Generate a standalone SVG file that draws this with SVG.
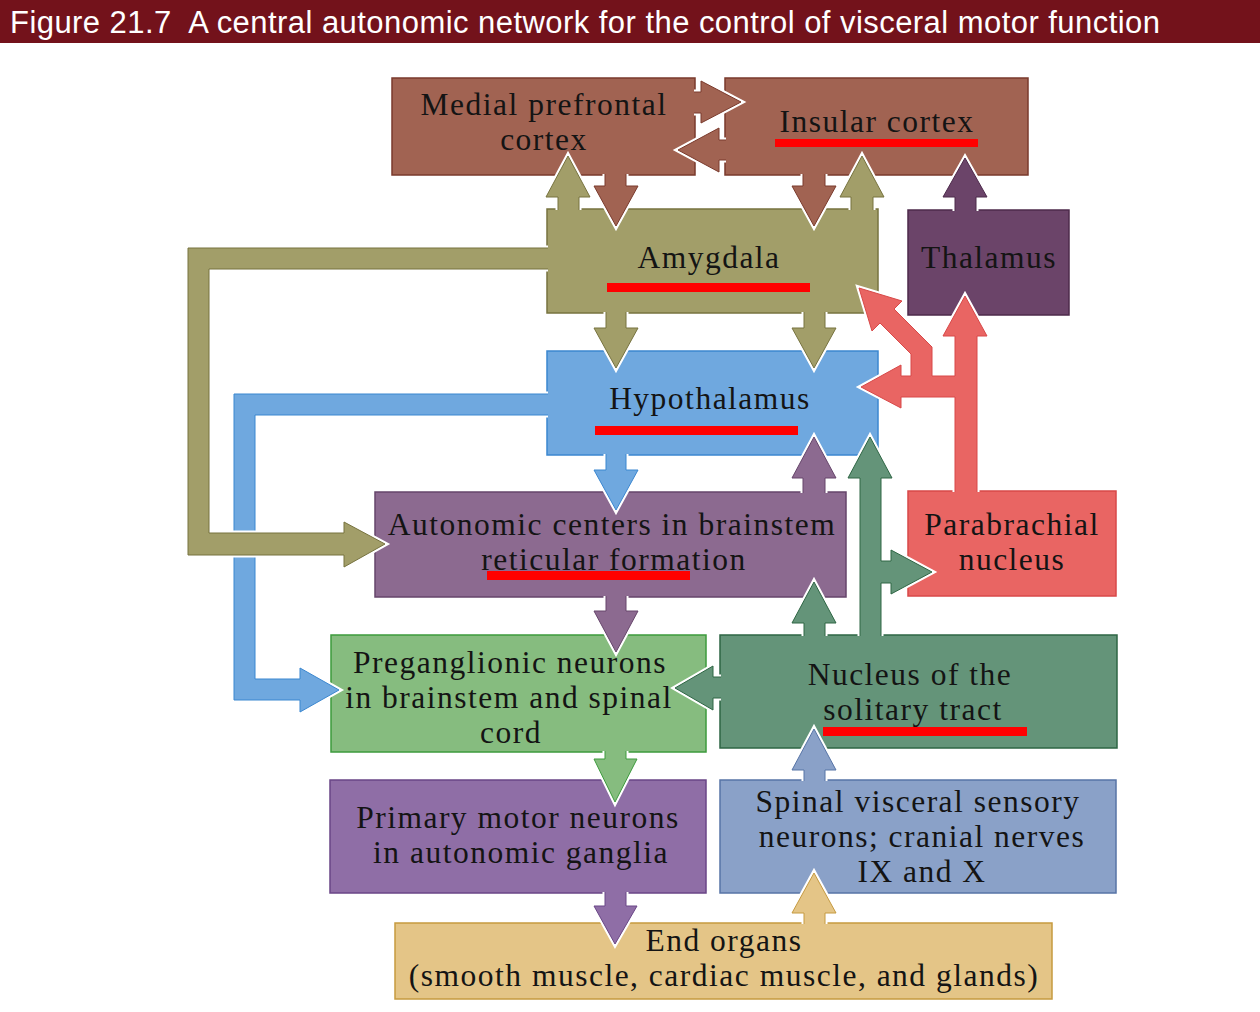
<svg xmlns="http://www.w3.org/2000/svg" xmlns:xlink="http://www.w3.org/1999/xlink" width="1260" height="1012" viewBox="0 0 1260 1012">
<style>
.t{font-family:"Liberation Serif","Times New Roman",serif;font-size:31.5px;letter-spacing:1.5px;fill:#141414;text-anchor:middle}
.title{font-family:"Liberation Sans",Arial,sans-serif;font-size:31px;fill:#ffffff}
.box{stroke-width:1.5}
.h{fill:none;stroke:#ffffff;stroke-width:5;stroke-linejoin:miter}
.a{stroke-width:1}
.ul{fill:#ff0000}
.brown{fill:#a16352;stroke:#7a3a2c}
.olive{fill:#a29e69;stroke:#77733f}
.thal{fill:#6b4469;stroke:#4d2a4b}
.blue{fill:#6fa8df;stroke:#3b87d0}
.auto{fill:#8c6a90;stroke:#66456b}
.para{fill:#e96563;stroke:#d84848}
.pre{fill:#86bc7f;stroke:#3d9b3d}
.nts{fill:#649479;stroke:#2e6644}
.prim{fill:#8f6ea6;stroke:#6a4687}
.spin{fill:#8aa1c8;stroke:#5774a6}
.end{fill:#e4c587;stroke:#c69a3f}
</style>
<defs>
<path id="pBlueL" d="M548,394 L234,394 L234,700 L300,700 L300,712 L339,690 L300,668 L300,679 L255,679 L255,415 L548,415"/>
<path id="pOliveL" d="M548,248 L188,248 L188,555 L344,555 L344,567 L385,544 L344,522 L344,533 L209,533 L209,269 L548,269"/>
<path id="p1" d="M694,92 L701,92 L701,81 L741,102 L701,123 L701,113 L694,113"/>
<path id="p2" d="M726,140 L719,140 L719,128 L678,150 L719,172 L719,160 L726,160"/>
<path id="p3" d="M605,174 L605,186 L594,186 L616,226 L638,186 L626,186 L626,174"/>
<path id="p4" d="M558,210 L558,197 L546,197 L568,156 L590,197 L579,197 L579,210"/>
<path id="p5" d="M803,174 L803,186 L792,186 L814,226 L836,186 L825,186 L825,174"/>
<path id="p6" d="M851,210 L851,197 L840,197 L862,156 L884,197 L873,197 L873,210"/>
<path id="p7" d="M955,211 L955,197 L943,197 L965,158 L987,197 L976,197 L976,211"/>
<path id="p8" d="M606,312 L606,328 L594,328 L616,368 L638,328 L626,328 L626,312"/>
<path id="p9" d="M804,312 L804,328 L792,328 L814,368 L836,328 L825,328 L825,312"/>
<path id="p10" d="M606,454 L606,470 L594,470 L616,510 L638,470 L626,470 L626,454"/>
<path id="p11" d="M803,493 L803,478 L792,478 L814,437 L836,478 L825,478 L825,493"/>
<path id="p12" d="M860,636 L860,478 L848,478 L870,437 L892,478 L881,478 L881,561 L891,561 L891,550 L932,572 L891,594 L891,583 L881,583 L881,636"/>
<path id="p13" d="M955,492 L955,397 L901,397 L901,408 L861,387 L901,365 L901,376 L911,376 L911,354 L880,323 L872,331 L859,288 L902,301 L894,309 L932,347 L932,376 L955,376 L955,336 L943,336 L965,296 L987,336 L977,336 L977,492"/>
<path id="p14" d="M606,596 L606,611 L594,611 L616,652 L638,611 L626,611 L626,596"/>
<path id="p15" d="M804,636 L804,623 L792,623 L814,582 L836,623 L825,623 L825,636"/>
<path id="p16" d="M721,677 L713,677 L713,666 L675,688 L713,710 L713,698 L721,698"/>
<path id="p17" d="M605,751 L605,759 L594,759 L615,802 L637,759 L626,759 L626,751"/>
<path id="p18" d="M605,892 L605,906 L594,906 L615,944 L637,906 L626,906 L626,892"/>
<path id="p19" d="M804,781 L804,770 L792,770 L814,729 L836,770 L825,770 L825,781"/>
<path id="p20" d="M804,924 L804,913 L792,913 L814,873 L836,913 L825,913 L825,924"/>
</defs>
<rect width="1260" height="1012" fill="#ffffff"/>
<g id="title">
<rect x="0" y="0" width="1260" height="43" fill="#73121b"/>
<text class="title" x="10" y="33" xml:space="preserve" textLength="1150" lengthAdjust="spacing">Figure 21.7  A central autonomic network for the control of visceral motor function</text>
</g>
<g id="medial-prefrontal">
<rect class="box brown" x="392" y="78" width="303" height="97"/>
<text class="t" x="544" y="115">Medial prefrontal</text>
<text class="t" x="544" y="150">cortex</text>
</g>
<g id="insular">
<rect class="box brown" x="725" y="78" width="303" height="97"/>
<text class="t" x="877" y="132">Insular cortex</text>
<rect class="ul" x="775" y="139" width="203" height="8"/>
</g>
<g id="amygdala">
<rect class="box olive" x="547" y="209" width="331" height="104"/>
<text class="t" x="709" y="268">Amygdala</text>
<rect class="ul" x="607" y="283" width="203" height="9"/>
</g>
<g id="thalamus">
<rect class="box thal" x="908" y="210" width="161" height="105"/>
<text class="t" x="989" y="268">Thalamus</text>
</g>
<g id="hypothalamus">
<rect class="box blue" x="547" y="351" width="331" height="104"/>
<text class="t" x="710" y="409">Hypothalamus</text>
<rect class="ul" x="595" y="426" width="203" height="9"/>
</g>
<g id="autonomic-centers">
<rect class="box auto" x="375" y="492" width="471" height="105"/>
<text class="t" x="612" y="535">Autonomic centers in brainstem</text>
<text class="t" x="614" y="570">reticular formation</text>
<rect class="ul" x="487" y="571" width="203" height="9"/>
</g>
<g id="parabrachial">
<rect class="box para" x="908" y="491" width="208" height="105"/>
<text class="t" x="1012" y="535">Parabrachial</text>
<text class="t" x="1012" y="570">nucleus</text>
</g>
<g id="preganglionic">
<rect class="box pre" x="331" y="635" width="375" height="117"/>
<text class="t" x="510" y="673">Preganglionic neurons</text>
<text class="t" x="509" y="708">in brainstem and spinal</text>
<text class="t" x="511" y="743">cord</text>
</g>
<g id="solitary-tract">
<rect class="box nts" x="720" y="635" width="397" height="113"/>
<text class="t" x="910" y="685">Nucleus of the</text>
<text class="t" x="913" y="720">solitary tract</text>
<rect class="ul" x="823" y="727" width="204" height="9"/>
</g>
<g id="primary-motor">
<rect class="box prim" x="330" y="780" width="376" height="113"/>
<text class="t" x="518" y="828">Primary motor neurons</text>
<text class="t" x="521" y="863">in autonomic ganglia</text>
</g>
<g id="spinal-visceral">
<rect class="box spin" x="720" y="780" width="396" height="113"/>
<text class="t" x="918" y="812">Spinal visceral sensory</text>
<text class="t" x="922" y="847">neurons; cranial nerves</text>
<text class="t" x="922" y="882">IX and X</text>
</g>
<g id="end-organs">
<rect class="box end" x="395" y="923" width="657" height="76"/>
<text class="t" x="724" y="951">End organs</text>
<text class="t" x="724" y="986">(smooth muscle, cardiac muscle, and glands)</text>
</g>
<g id="connectors">
<use href="#pBlueL" class="h"/><use href="#pBlueL" class="a blue"/>
<use href="#pOliveL" class="h"/><use href="#pOliveL" class="a olive"/>
<use href="#p1" class="h"/><use href="#p1" class="a brown"/>
<use href="#p2" class="h"/><use href="#p2" class="a brown"/>
<use href="#p3" class="h"/><use href="#p3" class="a brown"/>
<use href="#p4" class="h"/><use href="#p4" class="a olive"/>
<use href="#p5" class="h"/><use href="#p5" class="a brown"/>
<use href="#p6" class="h"/><use href="#p6" class="a olive"/>
<use href="#p7" class="h"/><use href="#p7" class="a thal"/>
<use href="#p8" class="h"/><use href="#p8" class="a olive"/>
<use href="#p9" class="h"/><use href="#p9" class="a olive"/>
<use href="#p10" class="h"/><use href="#p10" class="a blue"/>
<use href="#p11" class="h"/><use href="#p11" class="a auto"/>
<use href="#p12" class="h"/><use href="#p12" class="a nts"/>
<use href="#p13" class="h"/><use href="#p13" class="a para"/>
<use href="#p14" class="h"/><use href="#p14" class="a auto"/>
<use href="#p15" class="h"/><use href="#p15" class="a nts"/>
<use href="#p16" class="h"/><use href="#p16" class="a nts"/>
<use href="#p17" class="h"/><use href="#p17" class="a pre"/>
<use href="#p18" class="h"/><use href="#p18" class="a prim"/>
<use href="#p19" class="h"/><use href="#p19" class="a spin"/>
<use href="#p20" class="h"/><use href="#p20" class="a end"/>
</g>
</svg>
